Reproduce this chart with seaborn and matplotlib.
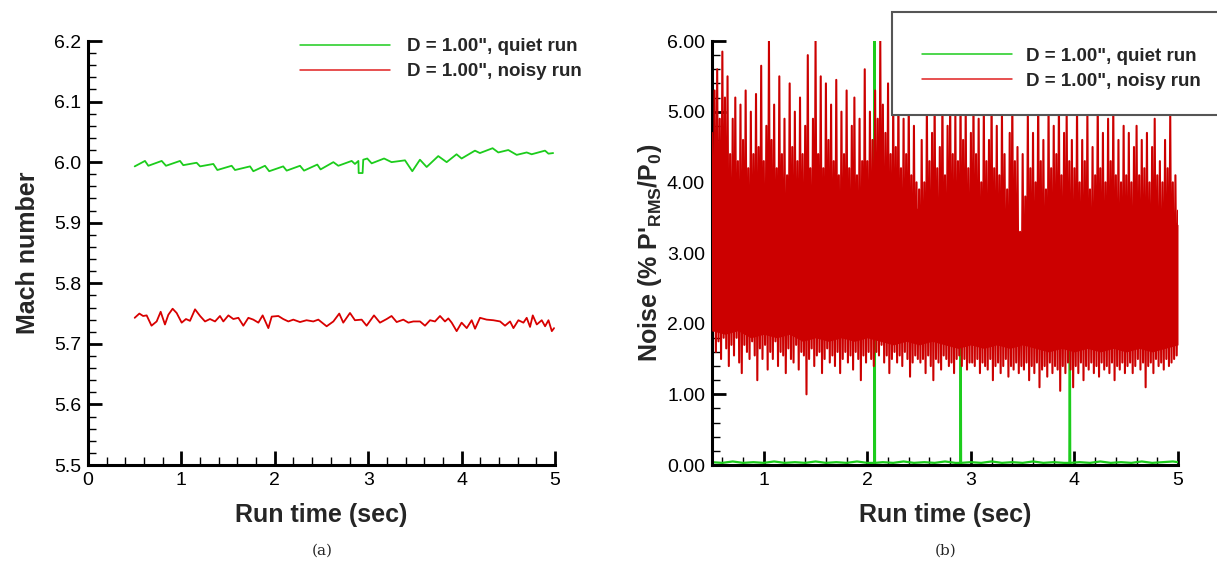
import numpy as np
import pandas as pd
import matplotlib
matplotlib.use("Agg")
import matplotlib.pyplot as plt
import seaborn as sns
from matplotlib.ticker import MultipleLocator, FormatStrFormatter
from matplotlib.lines import Line2D
from matplotlib.patches import Rectangle

# ---------------- data ----------------
legend_labels = ['D = 1.00", quiet run', 'D = 1.00", noisy run']

# panel (a): Mach number vs run time
quiet_t = [0.50, 0.61, 0.646, 0.789, 0.835, 0.985, 1.02, 1.163, 1.20, 1.342, 1.385,
           1.538, 1.574, 1.735, 1.77, 1.895, 1.94, 2.09, 2.127, 2.27, 2.313, 2.455,
           2.49, 2.627, 2.68, 2.823, 2.858, 2.895, 2.898, 2.94, 2.947, 2.99, 3.037,
           3.17, 3.25, 3.394, 3.472, 3.554, 3.626, 3.75, 3.84, 3.946, 4.0, 4.143,
           4.196, 4.332, 4.393, 4.5, 4.59, 4.697, 4.75, 4.893, 4.93, 4.98]
quiet_mach = [5.993, 6.002, 5.994, 6.002, 5.994, 6.002, 5.995, 5.999, 5.993, 5.997, 5.987,
              5.994, 5.987, 5.993, 5.985, 5.994, 5.985, 5.993, 5.986, 5.994, 5.986, 5.996,
              5.988, 6.000, 5.994, 6.002, 5.997, 6.002, 5.982, 5.982, 6.004, 6.006, 5.998,
              6.006, 6.000, 6.003, 5.985, 6.004, 5.992, 6.010, 6.000, 6.013, 6.006, 6.019,
              6.015, 6.023, 6.016, 6.020, 6.012, 6.016, 6.013, 6.019, 6.014, 6.015]

noisy_t = [0.50, 0.55, 0.59, 0.628, 0.68, 0.735, 0.778, 0.824, 0.86, 0.906, 0.949, 1.003,
           1.049, 1.092, 1.146, 1.20, 1.253, 1.306, 1.36, 1.413, 1.449, 1.503, 1.556, 1.61,
           1.663, 1.717, 1.77, 1.824, 1.87, 1.931, 1.967, 2.038, 2.09, 2.145, 2.198, 2.27,
           2.34, 2.412, 2.466, 2.555, 2.627, 2.69, 2.733, 2.805, 2.858, 2.93, 2.983, 3.062,
           3.126, 3.198, 3.25, 3.305, 3.376, 3.43, 3.483, 3.555, 3.608, 3.662, 3.715, 3.769,
           3.822, 3.858, 3.894, 3.947, 4.0, 4.055, 4.108, 4.144, 4.197, 4.268, 4.34, 4.412,
           4.465, 4.519, 4.555, 4.608, 4.662, 4.697, 4.733, 4.762, 4.805, 4.858, 4.894, 4.93,
           4.966, 4.99]
noisy_mach = [5.743, 5.750, 5.746, 5.747, 5.730, 5.737, 5.753, 5.732, 5.748, 5.758, 5.751, 5.735,
              5.741, 5.738, 5.757, 5.746, 5.737, 5.741, 5.737, 5.746, 5.737, 5.747, 5.741, 5.743,
              5.730, 5.743, 5.740, 5.735, 5.747, 5.726, 5.745, 5.746, 5.741, 5.737, 5.740, 5.736,
              5.739, 5.737, 5.740, 5.729, 5.737, 5.750, 5.735, 5.751, 5.739, 5.740, 5.730, 5.747,
              5.735, 5.741, 5.746, 5.736, 5.740, 5.735, 5.737, 5.737, 5.730, 5.739, 5.737, 5.746,
              5.737, 5.742, 5.735, 5.721, 5.735, 5.726, 5.739, 5.725, 5.743, 5.740, 5.739, 5.737,
              5.730, 5.737, 5.726, 5.739, 5.735, 5.743, 5.728, 5.747, 5.732, 5.739, 5.729, 5.739,
              5.721, 5.726]

# panel (b): noise level vs run time
quiet_noise_t = [0.50, 0.60, 0.70, 0.80, 0.90, 1.00, 1.10, 1.20, 1.30, 1.40, 1.50, 1.60,
                 1.70, 1.80, 1.90, 2.00, 2.066, 2.070, 2.074, 2.15, 2.25, 2.35, 2.45, 2.55,
                 2.65, 2.75, 2.85, 2.897, 2.901, 2.905, 3.00, 3.10, 3.20, 3.30, 3.40, 3.50,
                 3.60, 3.70, 3.80, 3.90, 3.951, 3.955, 3.959, 4.05, 4.15, 4.25, 4.35, 4.45,
                 4.55, 4.65, 4.75, 4.85, 4.95, 5.00]
quiet_noise = [0.04, 0.03, 0.05, 0.03, 0.04, 0.03, 0.05, 0.03, 0.04, 0.03, 0.05, 0.03,
               0.04, 0.03, 0.05, 0.03, 0.03, 7.00, 0.03, 0.04, 0.03, 0.05, 0.03, 0.04,
               0.03, 0.05, 0.03, 0.03, 2.50, 0.03, 0.04, 0.03, 0.05, 0.03, 0.04, 0.03,
               0.05, 0.03, 0.04, 0.03, 0.03, 2.50, 0.03, 0.04, 0.03, 0.05, 0.03, 0.04,
               0.03, 0.05, 0.03, 0.04, 0.05, 0.04]

# noisy-run signal: successive local maxima and minima, 0.5 s to 5.0 s
noisy_peaks = [
    4.7, 5.3, 5.6, 4.9, 5.85, 5.2, 5.5, 4.4, 4.9, 5.2, 4.3, 5.1, 4.6, 5.3, 4.2, 5.0, 4.4, 5.25, 4.5, 5.65,
    4.3, 4.8, 6.0, 4.6, 5.1, 4.2, 5.5, 4.4, 4.9, 4.1, 5.4, 4.5, 5.0, 4.3, 5.2, 4.4, 4.8, 5.8, 4.2, 4.9,
    6.0, 4.4, 5.5, 4.2, 5.4, 4.6, 5.1, 4.3, 5.45, 4.1, 5.0, 4.4, 5.3, 4.2, 4.8, 5.2, 4.1, 4.9, 4.3, 5.6,
    4.3, 5.0, 4.6, 5.3, 4.9, 6.0, 5.1, 4.7, 5.4, 4.4, 5.2, 4.5, 5.3, 4.2, 4.9, 4.4, 5.2, 4.1, 4.8, 4.0,
    3.9, 4.6, 4.0, 5.1, 4.3, 4.7, 5.2, 4.2, 4.5, 5.3, 4.1, 4.8, 5.2, 4.4, 5.0, 4.3, 5.3, 4.6, 5.1, 4.2,
    4.7, 5.2, 4.4, 4.9, 4.0, 5.1, 4.3, 4.6, 5.3, 4.2, 4.8, 4.1, 5.0, 4.4, 3.9, 4.7, 5.2, 4.3, 4.5, 3.3,
    4.4, 3.8, 5.0, 4.2, 4.7, 4.0, 5.3, 4.3, 4.6, 3.9, 5.1, 4.2, 4.8, 4.4, 5.2, 4.1, 4.7, 5.0, 4.3, 4.6,
    4.2, 5.1, 4.0, 4.6, 4.3, 5.0, 3.9, 4.5, 4.1, 5.2, 4.2, 4.7, 4.0, 4.9, 4.3, 5.1, 4.1, 4.6, 4.0, 4.8,
    4.1, 4.7, 4.0, 4.5, 4.8, 4.1, 4.6, 4.2, 4.7, 4.0, 4.5, 4.9, 4.1, 4.3, 4.0, 4.6, 4.2, 4.95, 4.0, 4.1,
    3.6]
noisy_troughs = [
    1.9, 1.6, 1.75, 1.5, 1.8, 1.65, 1.4, 1.7, 1.55, 1.8, 1.45, 1.3, 1.7, 1.6, 1.5, 1.75, 1.55, 1.2, 1.65, 1.5,
    1.7, 1.35, 1.6, 1.5, 1.75, 1.4, 1.6, 1.55, 1.3, 1.65, 1.5, 1.45, 1.7, 1.35, 1.6, 1.55, 1.0, 1.5, 1.65, 1.4,
    1.55, 1.6, 1.3, 1.5, 1.65, 1.45, 1.55, 1.4, 1.6, 1.3, 1.5, 1.6, 1.45, 1.55, 1.35, 1.6, 1.5, 1.2, 1.55, 1.45,
    1.6, 1.5, 1.4, 1.6, 1.55, 1.7, 1.45, 1.55, 1.3, 1.5, 1.6, 1.45, 1.55, 1.4, 1.6, 1.5, 1.25, 1.45, 1.55, 1.5,
    1.45, 1.5, 1.3, 1.55, 1.4, 1.2, 1.5, 1.45, 1.35, 1.55, 1.5, 1.4, 1.45, 1.3, 1.5, 1.55, 1.4, 1.5, 1.35, 1.45,
    1.45, 1.4, 1.5, 1.3, 1.45, 1.4, 1.35, 1.5, 1.2, 1.4, 1.45, 1.3, 1.4, 1.5, 1.25, 1.4, 1.35, 1.45, 1.3, 1.4,
    1.35, 1.45, 1.2, 1.4, 1.3, 1.45, 1.1, 1.35, 1.4, 1.25, 1.45, 1.3, 1.4, 1.35, 1.05, 1.4, 1.3, 1.45, 1.35, 1.1,
    1.4, 1.3, 1.45, 1.2, 1.4, 1.35, 1.45, 1.3, 1.4, 1.25, 1.45, 1.35, 1.4, 1.3, 1.45, 1.2, 1.4, 1.35, 1.45, 1.3,
    1.4, 1.45, 1.3, 1.4, 1.5, 1.35, 1.45, 1.1, 1.4, 1.45, 1.3, 1.5, 1.4, 1.45, 1.35, 1.5, 1.4, 1.45, 1.5, 1.55]

# dense (solid) part of the noisy-run band, read every 0.125 s
core_t = np.linspace(0.5, 5.0, 37)
core_top = [4.0, 4.1, 3.9, 3.8, 3.9, 3.7, 3.8, 3.7, 3.8, 3.6, 3.7, 3.8, 3.6, 3.9, 4.0, 3.8,
            3.6, 3.5, 3.7, 3.6, 3.5, 3.7, 3.6, 3.5, 3.2, 3.5, 3.6, 3.5, 3.6, 3.4, 3.6, 3.5,
            3.6, 3.4, 3.5, 3.6, 3.4]
core_bot = [1.9, 1.85, 1.9, 1.8, 1.85, 1.8, 1.85, 1.75, 1.8, 1.75, 1.8, 1.75, 1.8, 1.75, 1.7,
            1.75, 1.7, 1.75, 1.7, 1.65, 1.7, 1.65, 1.7, 1.65, 1.7, 1.65, 1.6, 1.65, 1.6, 1.65,
            1.6, 1.65, 1.6, 1.65, 1.6, 1.65, 1.7]

# ---------------- styling ----------------
GREEN = "#1ccc1c"
RED_A = "#d80000"
RED_B = "#cc0000"

sns.set_theme(style="ticks")
plt.rcParams["font.family"] = ["Liberation Sans", "DejaVu Sans"]
plt.rcParams["mathtext.fontset"] = "custom"
plt.rcParams["mathtext.rm"] = "Liberation Sans"
plt.rcParams["mathtext.bf"] = "Liberation Sans:bold"
plt.rcParams["mathtext.it"] = "Liberation Sans:italic"

W, H = 1217, 566
fig = plt.figure(figsize=(W / 100, H / 100), dpi=100)
fig.patch.set_facecolor("white")

ax_a = fig.add_axes([88 / W, 1 - 465 / H, 467 / W, 424 / H])
ax_b = fig.add_axes([712 / W, 1 - 465 / H, 466 / W, 424 / H])


def style_axis(ax):
    ax.set_facecolor("white")
    for s in ("top", "right"):
        ax.spines[s].set_visible(False)
    for s in ("left", "bottom"):
        ax.spines[s].set_linewidth(2.2)
        ax.spines[s].set_color("black")
    ax.tick_params(which="major", direction="in", length=10, width=2,
                   color="black", labelsize=14, labelcolor="black", pad=5)
    ax.tick_params(which="minor", direction="in", length=6, width=1, color="black")
    ax.grid(False)


# ---------------- panel (a) ----------------
df_qa = pd.DataFrame({"t": quiet_t, "m": quiet_mach})
df_na = pd.DataFrame({"t": noisy_t, "m": noisy_mach})
sns.lineplot(data=df_qa, x="t", y="m", ax=ax_a, color=GREEN, lw=1.3,
             sort=False, estimator=None, legend=False)
sns.lineplot(data=df_na, x="t", y="m", ax=ax_a, color=RED_A, lw=1.3,
             sort=False, estimator=None, legend=False)
ax_a.set_xlim(0, 5)
ax_a.set_ylim(5.5, 6.2)
ax_a.xaxis.set_major_locator(MultipleLocator(1))
ax_a.xaxis.set_minor_locator(MultipleLocator(0.2))
ax_a.yaxis.set_major_locator(MultipleLocator(0.1))
ax_a.yaxis.set_minor_locator(MultipleLocator(0.02))
ax_a.yaxis.set_major_formatter(FormatStrFormatter("%.1f"))
style_axis(ax_a)
ax_a.set_xlabel("Run time (sec)", fontsize=18, fontweight="bold", labelpad=10)
ax_a.set_ylabel("Mach number", fontsize=18, fontweight="bold", labelpad=10)

handles = [Line2D([], [], color=GREEN, lw=1.1), Line2D([], [], color="#e02020", lw=1.1)]
leg_a = fig.legend(handles, legend_labels, loc="center left",
                   bbox_to_anchor=(300 / W, 1 - 59 / H), frameon=False,
                   prop={"size": 13.5, "weight": "bold"}, handlelength=4.8,
                   handletextpad=0.9, labelspacing=0.42, borderpad=0, borderaxespad=0)

# ---------------- panel (b) ----------------
peak_t = np.linspace(0.5, 5.0, len(noisy_peaks))
trough_t = peak_t[:-1] + (peak_t[1] - peak_t[0]) / 2
zz_t = np.empty(len(peak_t) + len(trough_t))
zz_v = np.empty_like(zz_t)
zz_t[0::2] = peak_t
zz_t[1::2] = trough_t
zz_v[0::2] = noisy_peaks
zz_v[1::2] = noisy_troughs

df_qb = pd.DataFrame({"t": quiet_noise_t, "n": quiet_noise})
df_nb = pd.DataFrame({"t": zz_t, "n": zz_v})
sns.lineplot(data=df_qb, x="t", y="n", ax=ax_b, color=GREEN, lw=1.6,
             sort=False, estimator=None, legend=False)
ax_b.fill_between(core_t, core_bot, core_top, color=RED_B, lw=0, zorder=3)
sns.lineplot(data=df_nb, x="t", y="n", ax=ax_b, color=RED_B, lw=1.5,
             sort=False, estimator=None, legend=False, zorder=4)
ax_b.set_xlim(0.5, 5)
ax_b.set_ylim(0, 6)
ax_b.xaxis.set_major_locator(MultipleLocator(1))
ax_b.xaxis.set_minor_locator(MultipleLocator(0.2))
ax_b.yaxis.set_major_locator(MultipleLocator(1))
ax_b.yaxis.set_minor_locator(MultipleLocator(0.2))
ax_b.yaxis.set_major_formatter(FormatStrFormatter("%.2f"))
style_axis(ax_b)
ax_b.set_xlabel("Run time (sec)", fontsize=18, fontweight="bold", labelpad=10)
ax_b.set_ylabel("Noise (% P'$_\\mathbf{RMS}$/P$_\\mathbf{0}$)", fontsize=18,
                fontweight="bold", labelpad=2)

box = Rectangle((892 / W, 1 - 115 / H), 0.4, 103 / H, transform=fig.transFigure,
                facecolor="white", edgecolor="#555555", lw=1.5, zorder=10, clip_on=False)
ax_b.add_artist(box)
ax_b.set_zorder(2)
leg_b = fig.legend(handles, legend_labels, loc="center left",
                   bbox_to_anchor=(922 / W, 1 - 68.5 / H), frameon=False,
                   prop={"size": 13.5, "weight": "bold"}, handlelength=4.8,
                   handletextpad=0.75, labelspacing=0.42, borderpad=0, borderaxespad=0)
leg_b.set_zorder(20)

# captions
fig.text(322 / W, 1 - 551 / H, "(a)", family="DejaVu Serif", fontsize=11,
         ha="center", va="center")
fig.text(946 / W, 1 - 551 / H, "(b)", family="DejaVu Serif", fontsize=11,
         ha="center", va="center")

fig.savefig("out.png", dpi=100, facecolor="white")
